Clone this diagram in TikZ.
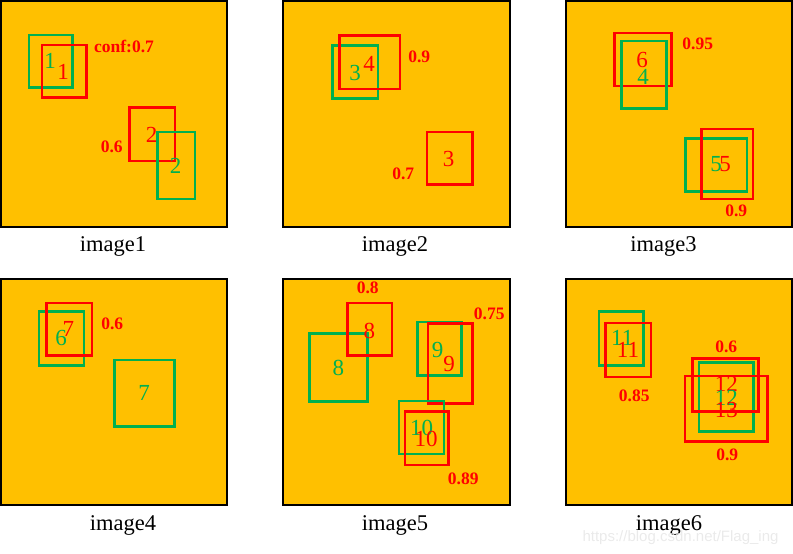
\documentclass[tikz,border=0pt]{standalone}
\usepackage{fontspec}
\setmainfont{Liberation Serif}
\newfontfamily\wmfont{Liberation Sans}
\definecolor{panelfill}{HTML}{FFC000}
\definecolor{boxgreen}{HTML}{00B050}
\definecolor{boxred}{HTML}{FF0000}
\tikzset{
  panel/.style={draw=black,line width=2.2pt,fill=panelfill},
  gbox/.style={draw=boxgreen,line width=2.8pt},
  rbox/.style={draw=boxred,line width=2.8pt},
  gnum/.style={text=boxgreen,inner sep=0pt,font=\fontsize{23}{23}\selectfont},
  rnum/.style={text=boxred,inner sep=0pt,font=\fontsize{23}{23}\selectfont},
  conf/.style={text=boxred,inner sep=0pt,font=\fontsize{17.5}{17.5}\selectfont\bfseries},
  captext/.style={text=black,inner sep=0pt,font=\fontsize{22.5}{22.5}\selectfont},
}
\begin{document}
\begin{tikzpicture}[x=1pt,y=-1pt]
\useasboundingbox (0,0) rectangle (793,554);
% panels
\draw[panel] (1,1) rectangle (227,227);
\draw[panel] (283,1) rectangle (510,227);
\draw[panel] (566,1) rectangle (792,227);
\draw[panel] (1,279) rectangle (227,505);
\draw[panel] (283,279) rectangle (510,505);
\draw[panel] (566,279) rectangle (792,505);
% captions
\node[captext] (c1) at (113,246) {image1};
\node[captext] (c2) at (395,246) {image2};
\node[captext] (c3) at (663.5,246) {image3};
\node[captext] (c4) at (123,525) {image4};
\node[captext] (c5) at (395,525) {image5};
\node[captext] (c6) at (669,525) {image6};
% ---- image1
\draw[gbox] (29,35) rectangle (72.7,87.7);
\draw[rbox] (42,45) rectangle (86.7,97.7);
\node[gnum] (n1g) at (50,61) {1};
\node[rnum] (n1r) at (63,72) {1};
\node[conf] (f1) at (124,46) {conf:0.7};
\draw[rbox] (129.7,107.7) rectangle (175,161);
\draw[gbox] (157.7,132) rectangle (195,199);
\node[rnum] (n2r) at (151.7,135) {2};
\node[gnum] (n2g) at (175.7,165.7) {2};
\node[conf] (f2) at (111.7,147.3) {0.6};
% ---- image2
\draw[gbox] (332.7,45.7) rectangle (378,98.7);
\draw[rbox] (339.7,35.7) rectangle (400,89);
\node[gnum] (n3g) at (355,73.3) {3};
\node[rnum] (n4r) at (369,64) {4};
\node[conf] (f3) at (419.3,57.3) {0.9};
\draw[rbox] (427,132) rectangle (472.3,184.3);
\node[rnum] (n3r) at (448.7,158.7) {3};
\node[conf] (f4) at (403.3,174) {0.7};
% ---- image3
\draw[rbox] (614.7,33) rectangle (671.7,86);
\draw[gbox] (621.3,41) rectangle (666.3,108.3);
\node[rnum] (n6r) at (642,60) {6};
\node[gnum] (n4g) at (643,76.7) {4};
\node[conf] (f5) at (697.7,44) {0.95};
\draw[gbox] (685.3,138.7) rectangle (747,191.7);
\draw[rbox] (701.7,129) rectangle (753,199);
\node[gnum] (n5g) at (716,164) {5};
\node[rnum] (n5r) at (725,164) {5};
\node[conf] (f6) at (736.3,210.7) {0.9};
% ---- image4
\draw[gbox] (39,311.3) rectangle (84,365.3);
\draw[rbox] (46.7,303) rectangle (92,355.3);
\node[gnum] (n6g) at (61,338.3) {6};
\node[rnum] (n7r) at (68.3,329.3) {7};
\node[conf] (f7) at (112.3,324.3) {0.6};
\draw[gbox] (114.3,360) rectangle (174.7,426.7);
\node[gnum] (n7g) at (144,393.3) {7};
% ---- image5
\draw[gbox] (309.3,333.3) rectangle (367.7,401.3);
\draw[rbox] (347.3,303) rectangle (392,355.3);
\node[rnum] (n8r) at (369.3,331) {8};
\node[gnum] (n8g) at (338.3,368.3) {8};
\node[conf] (f8) at (367.7,288.3) {0.8};
\draw[gbox] (417.3,322) rectangle (461.7,375.3);
\draw[rbox] (428,323.3) rectangle (472.7,403.7);
\node[gnum] (n9g) at (437.7,350) {9};
\node[rnum] (n9r) at (449,364.3) {9};
\node[conf] (f9) at (489.3,314) {0.75};
\draw[gbox] (399,401) rectangle (444,454);
\draw[rbox] (405,411.7) rectangle (448.7,465);
\node[gnum] (n10g) at (421.7,427.7) {10};
\node[rnum] (n10r) at (426,439.3) {10};
\node[conf] (f10) at (463.3,479) {0.89};
% ---- image6
\draw[gbox] (599,311.7) rectangle (643.7,365.7);
\draw[rbox] (605.7,323) rectangle (651,377);
\node[gnum] (n11g) at (622.3,338.3) {11};
\node[rnum] (n11r) at (628,350) {11};
\node[conf] (f11) at (634.3,396) {0.85};
\draw[gbox] (699,362.7) rectangle (753.7,431.3);
\draw[rbox] (692.3,358.7) rectangle (758.7,411.3);
\draw[rbox] (685,376) rectangle (767.7,441.7);
\node[rnum] (n12r) at (726.3,384.3) {12};
\node[gnum] (n12g) at (726.3,398.3) {12};
\node[rnum] (n13r) at (726.3,410) {13};
\node[conf] (f12) at (726.3,346.7) {0.6};
\node[conf] (f13) at (727.3,455) {0.9};
% watermark
\node[inner sep=0pt,text=white!80!gray,opacity=0.8,font=\wmfont\fontsize{15}{15}\selectfont] (wm) at (680.5,538) {https://blog.csdn.net/Flag\_ing};
\end{tikzpicture}
\end{document}
